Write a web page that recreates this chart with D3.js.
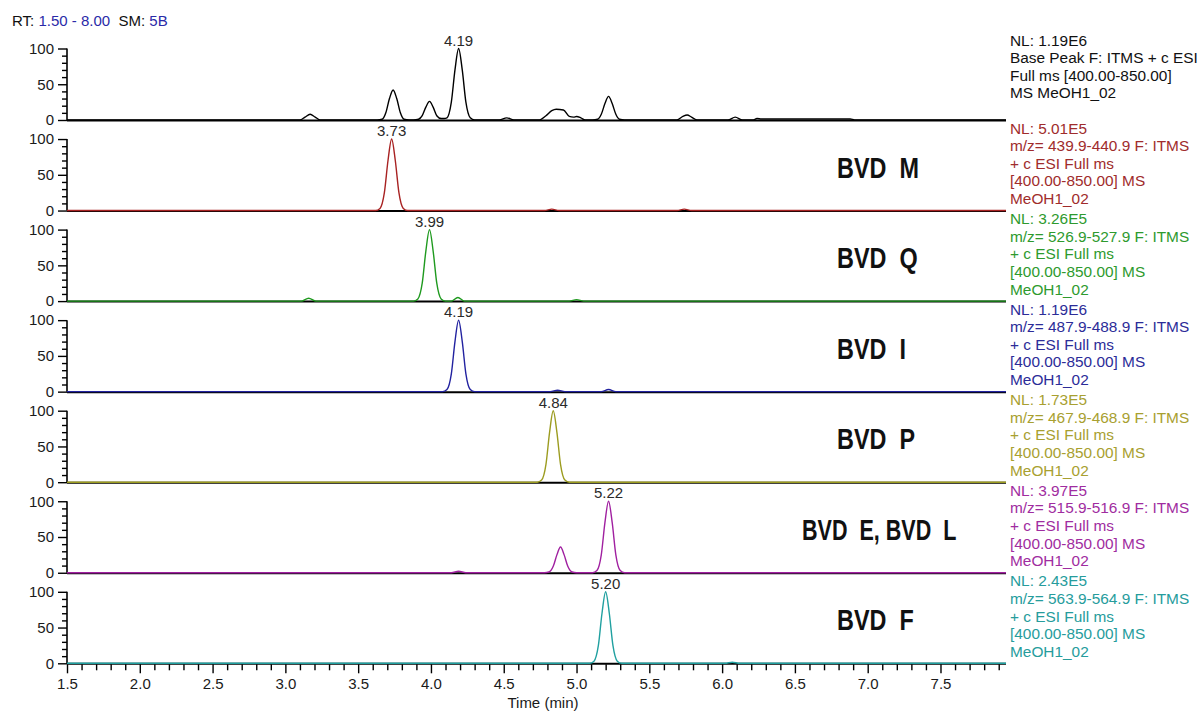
<!DOCTYPE html>
<html>
<head>
<meta charset="utf-8">
<script src="https://cdn.jsdelivr.net/npm/d3@7"></script>
<style>
  body { margin: 0; background: #fff; }
  text { font-family: "Liberation Sans", Arial, sans-serif; }
</style>
</head>
<body>
<svg id="chart" width="1204" height="711"></svg>
<script>
// 色谱图数据：[时间(min), 相对强度(%)]
const basePeak = [
  [1.5, 0],
  [3.10, 0], [3.135, 4], [3.17, 8], [3.205, 4], [3.24, 0],
  [3.63, 0], [3.665, 1], [3.69, 10], [3.715, 30], [3.74, 42], [3.765, 30], [3.79, 10], [3.815, 1], [3.85, 0],
  [3.88, 0], [3.915, 1], [3.94, 6], [3.965, 18], [3.99, 26], [4.015, 18], [4.04, 6], [4.07, 2], [4.09, 2],
  [4.11, 3], [4.14, 25], [4.165, 70], [4.19, 100], [4.215, 70], [4.24, 25], [4.27, 3], [4.30, 0],
  [4.47, 0], [4.52, 3], [4.57, 0],
  [4.74, 0], [4.79, 6], [4.83, 13], [4.86, 15], [4.91, 14], [4.95, 5], [4.98, 4], [5.00, 5], [5.03, 3], [5.06, 0],
  [5.11, 0], [5.145, 1], [5.17, 8], [5.195, 23], [5.22, 33], [5.245, 23], [5.27, 8], [5.295, 1], [5.33, 0],
  [5.69, 0], [5.73, 5], [5.76, 7], [5.79, 4], [5.83, 0],
  [6.04, 0], [6.09, 4], [6.14, 0],
  [6.21, 0], [6.24, 2], [6.27, 1.5], [6.88, 1.5], [6.91, 0],
  [7.95, 0]
]
const bvdM = [
  [1.5, 0],
  [3.62, 0], [3.65, 3], [3.68, 25], [3.705, 70], [3.73, 100], [3.755, 70], [3.78, 25], [3.81, 3], [3.84, 0],
  [4.78, 0], [4.83, 2], [4.88, 0],
  [5.69, 0], [5.74, 2], [5.79, 0],
  [7.95, 0]
]
const bvdQ = [
  [1.5, 0],
  [3.11, 0], [3.16, 4], [3.21, 0],
  [3.88, 0], [3.91, 3], [3.94, 25], [3.965, 70], [3.99, 100], [4.015, 70], [4.04, 25], [4.07, 3], [4.10, 0],
  [4.14, 0], [4.185, 5], [4.23, 0],
  [4.95, 0], [5.00, 2], [5.05, 0],
  [7.95, 0]
]
const bvdI = [
  [1.5, 0],
  [4.08, 0], [4.11, 3], [4.14, 25], [4.165, 70], [4.19, 100], [4.215, 70], [4.24, 25], [4.27, 3], [4.30, 0],
  [4.82, 0], [4.87, 2], [4.92, 0],
  [5.17, 0], [5.22, 3], [5.27, 0],
  [7.95, 0]
]
const bvdP = [
  [1.5, 0],
  [4.73, 0], [4.76, 3], [4.79, 25], [4.815, 70], [4.84, 100], [4.865, 70], [4.89, 25], [4.92, 3], [4.95, 0],
  [7.95, 0]
]
const bvdEL = [
  [1.5, 0],
  [4.14, 0], [4.19, 2], [4.24, 0],
  [4.78, 0], [4.81, 1], [4.84, 9], [4.865, 25], [4.89, 36], [4.915, 25], [4.94, 9], [4.97, 1], [5.00, 0],
  [5.11, 0], [5.14, 3], [5.17, 25], [5.195, 70], [5.22, 100], [5.245, 70], [5.27, 25], [5.30, 3], [5.33, 0],
  [7.95, 0]
]
const bvdF = [
  [1.5, 0],
  [5.09, 0], [5.12, 3], [5.15, 25], [5.175, 70], [5.20, 100], [5.225, 70], [5.25, 25], [5.28, 3], [5.31, 0],
  [6.02, 0], [6.07, 1.5], [6.12, 0],
  [7.95, 0]
]
const traces = [basePeak, bvdM, bvdQ, bvdI, bvdP, bvdEL, bvdF]

const peakTimes = [4.19, 3.73, 3.99, 4.19, 4.84, 5.22, 5.20]
const nlValues = ['1.19E6', '5.01E5', '3.26E5', '1.19E6', '1.73E5', '3.97E5', '2.43E5']
const mzRanges = ['', '439.9-440.9', '526.9-527.9', '487.9-488.9', '467.9-468.9', '515.9-516.9', '563.9-564.9']
const compoundLabels = ['', 'BVD  M', 'BVD  Q', 'BVD  I', 'BVD  P', 'BVD  E, BVD  L', 'BVD  F']
const xTickLabels = ['1.5', '2.0', '2.5', '3.0', '3.5', '4.0', '4.5', '5.0', '5.5', '6.0', '6.5', '7.0', '7.5']
const yTickLabels = ['0', '50', '100']

// 颜色
const lineColors = ['#000000', '#a82222', '#1f9a1f', '#2222a0', '#9c9c20', '#a020a0', '#20a0a0']
const textColors = ['#111111', '#a02c2c', '#2e9a2e', '#2c2c98', '#a8a030', '#a02ca0', '#269c9c']

let svg = d3.select('#chart')
let xScale = d3.scaleLinear()
  .domain([1.5, 7.95])
  .range([67, 1006])

let panelTop = 120   // 第一个面板的基线
let panelStep = 90.55
let panelHeight = 71.5

// 顶部 RT 信息
let header = svg.append('text').attr('x', 12).attr('y', 26).attr('font-size', '15px')
header.append('tspan').attr('fill', '#111').text('RT: ')
header.append('tspan').attr('fill', '#2a2aa8').text('1.50 - 8.00')
header.append('tspan').attr('fill', '#111').style('white-space', 'pre').text('  SM: ')
header.append('tspan').attr('fill', '#2a2aa8').text('5B')

let line = d3.line()
  .x(function (d) { return xScale(d[0]) })
  .curve(d3.curveMonotoneX)

traces.forEach(function (trace, i) {
  let y0 = panelTop + i * panelStep
  let yScale = d3.scaleLinear().domain([0, 100]).range([y0, y0 - panelHeight])
  let g = svg.append('g').attr('class', 'panel')

  // y轴 主刻度
  let yMajor = g.append('g')
    .attr('transform', 'translate(67,0)')
    .call(d3.axisLeft(yScale).tickValues(yTickLabels.map(Number)).tickSize(9).tickPadding(4))
  yMajor.select('.domain').remove()
  yMajor.selectAll('line').attr('stroke', '#000').attr('stroke-width', 1.4)
  yMajor.selectAll('text').attr('font-size', '15px').attr('fill', '#1a1a1a')
    .attr('font-family', '"Liberation Sans", Arial, sans-serif')
  // y轴 次刻度
  let yMinor = g.append('g')
    .attr('transform', 'translate(67,0)')
    .call(d3.axisLeft(yScale).tickValues([10, 20, 30, 40, 60, 70, 80, 90]).tickSize(5).tickFormat(''))
  yMinor.select('.domain').remove()
  yMinor.selectAll('line').attr('stroke', '#000').attr('stroke-width', 1.4)

  g.append('line')
    .attr('x1', 67).attr('x2', 67)
    .attr('y1', yScale(0)).attr('y2', yScale(100))
    .attr('stroke', '#000').attr('stroke-width', 1.6)
  g.append('line')
    .attr('x1', 67).attr('x2', xScale.range()[1])
    .attr('y1', y0 + 0.5).attr('y2', y0 + 0.5)
    .attr('stroke', '#000').attr('stroke-width', 2)

  // 色谱曲线
  g.append('path')
    .datum(trace)
    .attr('d', line.y(function (d) { return yScale(d[1]) }))
    .attr('fill', 'none')
    .attr('stroke', lineColors[i])
    .attr('stroke-width', 1.4)

  // 峰标签
  let peakVal = d3.max(trace, function (d) { return d[1] })
  g.append('text')
    .attr('x', xScale(peakTimes[i]))
    .attr('y', yScale(peakVal) - 3)
    .attr('text-anchor', 'middle')
    .attr('font-size', '15px')
    .attr('fill', '#2a2a2a')
    .text(d3.format('.2f')(peakTimes[i]))

  // 右侧说明文字
  let lines
  if (i === 0) {
    lines = ['NL: ' + nlValues[i], 'Base Peak F: ITMS + c ESI', 'Full ms [400.00-850.00]', 'MS MeOH1_02']
  } else {
    lines = ['NL: ' + nlValues[i], 'm/z= ' + mzRanges[i] + ' F: ITMS', '+ c ESI Full ms', '[400.00-850.00] MS', 'MeOH1_02']
  }
  let firstY = i === 0 ? y0 - 74.5 : y0 - 77
  g.selectAll('.info')
    .data(lines)
    .enter().append('text')
    .attr('class', 'info')
    .attr('x', 1010)
    .attr('y', function (d, k) { return firstY + k * 17.6 })
    .attr('font-size', '15.4px')
    .attr('fill', textColors[i])
    .text(function (d) { return d })

  // 化合物名称
  if (compoundLabels[i]) {
    let wide = compoundLabels[i].length > 8
    let label = g.append('text')
      .attr('transform', 'translate(' + (wide ? 802 : 837) + ',' + (y0 - 33) + ') scale(0.78,1)')
      .attr('font-family', '"Open Sans", sans-serif')
      .attr('font-weight', 'bold')
      .attr('font-size', '30px')
      .attr('fill', '#111')
      .style('white-space', 'pre')
      .text(compoundLabels[i])
    if (wide) label.attr('textLength', 198).attr('lengthAdjust', 'spacingAndGlyphs')
  }
})

// 底部时间轴
let yBottom = panelTop + 6 * panelStep
let xMajor = svg.append('g')
  .attr('transform', 'translate(0,' + (yBottom + 1) + ')')
  .call(d3.axisBottom(xScale).tickValues(xTickLabels.map(Number)).tickSize(9).tickPadding(5)
    .tickFormat(d3.format('.1f')))
xMajor.select('.domain').remove()
xMajor.selectAll('line').attr('stroke', '#000').attr('stroke-width', 1.4)
xMajor.selectAll('text').attr('font-size', '15px').attr('fill', '#1a1a1a')
  .attr('font-family', '"Liberation Sans", Arial, sans-serif')
let minorTicks = d3.range(16, 80).map(function (d) { return d / 10 })
  .filter(function (d) { return Math.round(d * 10) % 5 !== 0 })
let xMinor = svg.append('g')
  .attr('transform', 'translate(0,' + (yBottom + 1) + ')')
  .call(d3.axisBottom(xScale).tickValues(minorTicks).tickSize(6).tickFormat(''))
xMinor.select('.domain').remove()
xMinor.selectAll('line').attr('stroke', '#000').attr('stroke-width', 1.4)

svg.append('text')
  .attr('x', 543)
  .attr('y', 708)
  .attr('text-anchor', 'middle')
  .attr('font-size', '15px')
  .attr('fill', '#1a1a1a')
  .text('Time (min)')
</script>
</body>
</html>
